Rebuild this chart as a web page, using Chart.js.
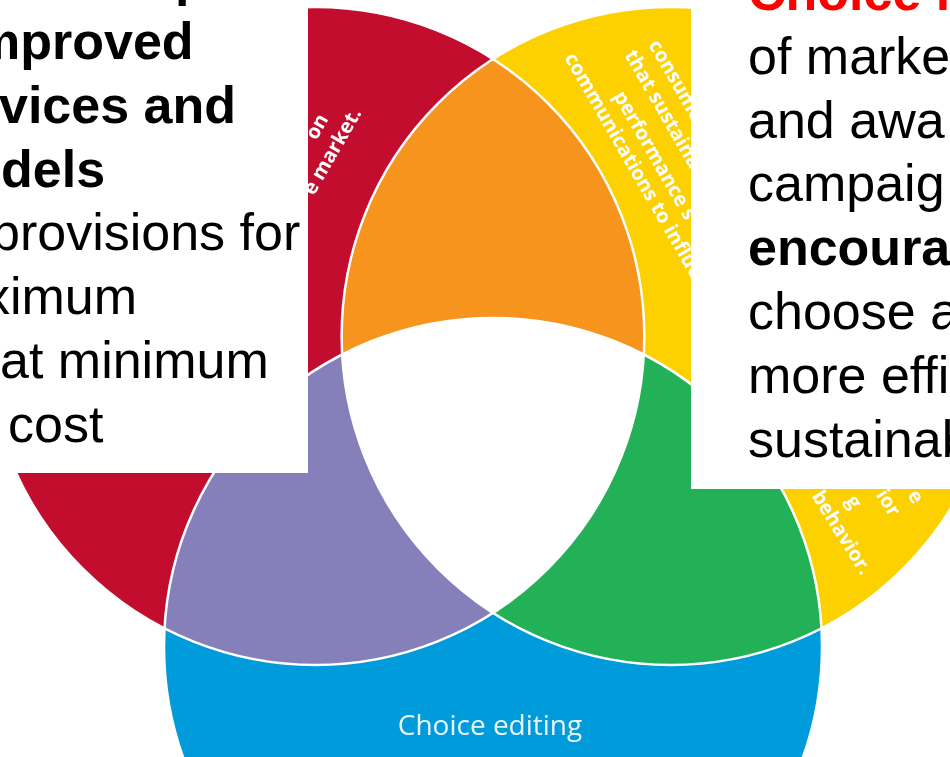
<!DOCTYPE html>
<html>
<head>
<meta charset="utf-8">
<title>Choice editing</title>
<script src="https://cdn.jsdelivr.net/npm/chart.js@4.4.1/dist/chart.umd.min.js"></script>
<style>
  html, body { margin: 0; padding: 0; background: #fff; overflow: hidden; }
  #wrap { position: relative; width: 950px; height: 757px; overflow: hidden; }
  #chartBox { position: absolute; left: 0; top: 0; width: 950px; height: 757px; }
  .box { position: absolute; background: #fff; overflow: hidden;
         font-family: Arial, "Liberation Sans", sans-serif; font-size: 52px; line-height: 52px; color: #000; }
  .box span { position: absolute; white-space: nowrap; }
  .bold { font-weight: bold; }
</style>
</head>
<body>
<div id="wrap">
  <div id="chartBox"><canvas id="venn"></canvas></div>
  <div class="box" id="leftBox" style="left:0;top:0;width:308px;height:473px"></div>
  <div class="box" id="rightBox" style="left:691px;top:0;width:259px;height:489px"></div>
</div>
<script>
// three overlapping sets, in diagram units (radius = 100)
const circleNames = ['Left set', 'Right set', 'Choice editing'];
const circleX = [-54, 54, 0];
const circleY = [0, 0, 94.5];
const circleR = [100, 100, 100];
const overlapPairs = [[0, 1], [0, 2], [1, 2]];

const circleColors = ['#C30D2F', '#FDD000', '#009BDB'];
const overlapColors = ['#F7941E', '#8580B9', '#22B157'];
const centerColor = '#FFFFFF';

// text boxes laid over the picture (both are cut by the slide edges)
const leftLines = ['p', 'mproved', 'vices and', 'dels', 'provisions for', 'ximum', 'at minimum', 'cost'];
const leftBold = [true, true, true, true, false, false, false, false];
const leftIndent = [175, -26, -1, 1, -9, -16, 0, 8];
const rightLines = ['Choice i', 'of marke', 'and awa', 'campaig', 'encoura', 'choose a', 'more effi', 'sustainab'];
const rightBold = [true, false, false, false, true, false, false, false];
const rightColor = ['#FF0000', '#000', '#000', '#000', '#000', '#000', '#000', '#000'];

// small white captions written along the rings
const ringNotes = [
  { text: 'on', x: 324, y: 116, angle: -60, align: 'right' },
  { text: 'e market.', x: 357, y: 110, angle: -60, align: 'right' },
  { text: 'consume', x: 653, y: 42, angle: 60, align: 'left' },
  { text: 'that sustainab', x: 629, y: 52, angle: 60, align: 'left' },
  { text: 'performance s', x: 618, y: 93, angle: 60, align: 'left' },
  { text: 'communications to influe', x: 569, y: 55, angle: 60, align: 'left' },
  { text: 'e', x: 918, y: 502, angle: 58, align: 'right' },
  { text: 'ior', x: 895, y: 515, angle: 58, align: 'right' },
  { text: 'g', x: 856, y: 507, angle: 58, align: 'right' },
  { text: 'behavior.', x: 866, y: 573, angle: 58, align: 'right' }
];

function fillBox(id, lines, bold, indent, colors, firstBaseline) {
    const box = document.getElementById(id);
    lines.forEach((line, i) => {
        const s = document.createElement('span');
        s.textContent = line;
        if (bold[i]) s.className = 'bold';
        s.style.left = indent[i] + 'px';
        s.style.top = (firstBaseline + 63.8 * i - 44) + 'px';
        if (colors) s.style.color = colors[i];
        box.appendChild(s);
    });
}
fillBox('leftBox', leftLines, leftBold, leftIndent, null, -4.8);
fillBox('rightBox', rightLines, rightBold, rightLines.map(() => 57), rightColor, 10);

const vennPlugin = {
    id: 'venn',
    beforeDatasetsDraw(chart) {
        const ctx = chart.ctx;
        const xs = chart.scales.x, ys = chart.scales.y;
        const circles = circleX.map((cx, i) => {
            const px = xs.getPixelForValue(cx);
            const py = ys.getPixelForValue(circleY[i]);
            const pr = Math.abs(xs.getPixelForValue(cx + circleR[i]) - px);
            return { px, py, pr };
        });
        chart.$circles = circles;
        const path = c => { ctx.beginPath(); ctx.arc(c.px, c.py, c.pr, 0, Math.PI * 2); };

        ctx.save();
        circles.forEach((c, i) => { path(c); ctx.fillStyle = circleColors[i]; ctx.fill(); });
        overlapPairs.forEach((pair, k) => {
            ctx.save();
            pair.forEach(i => { path(circles[i]); ctx.clip(); });
            ctx.fillStyle = overlapColors[k];
            ctx.fillRect(0, 0, chart.width, chart.height);
            ctx.restore();
        });
        ctx.save();
        circles.forEach(c => { path(c); ctx.clip(); });
        ctx.fillStyle = centerColor;
        ctx.fillRect(0, 0, chart.width, chart.height);
        ctx.restore();

        // white seams between the regions
        ctx.strokeStyle = '#FFFFFF';
        ctx.lineWidth = 2.5;
        circles.forEach(c => { path(c); ctx.stroke(); });
        ctx.restore();
    },
    afterDatasetsDraw(chart) {
        const ctx = chart.ctx;
        ctx.save();
        ctx.fillStyle = '#FFFFFF';
        ctx.textBaseline = 'middle';
        ctx.font = '700 20px "Open Sans", sans-serif';
        ringNotes.forEach(n => {
            ctx.save();
            ctx.translate(n.x, n.y);
            ctx.rotate(n.angle * Math.PI / 180);
            ctx.textAlign = n.align;
            ctx.fillText(n.text, 0, 0);
            ctx.restore();
        });

        // name of the bottom set
        const blue = chart.$circles[2];
        ctx.fillStyle = '#E8F5FC';
        ctx.font = '28px "Open Sans", sans-serif';
        ctx.textAlign = 'center';
        ctx.textBaseline = 'alphabetic';
        ctx.fillText(circleNames[2], blue.px - 3, blue.py + 88);
        ctx.restore();
    }
};

new Chart(document.getElementById('venn'), {
    type: 'scatter',
    data: {
        datasets: [{
            label: 'sets',
            data: circleX.map((x, i) => ({ x: x, y: circleY[i] })),
            pointRadius: 0
        }]
    },
    options: {
        responsive: true,
        maintainAspectRatio: false,
        animation: false,
        layout: { padding: 0 },
        plugins: { legend: { display: false }, tooltip: { enabled: false } },
        scales: {
            x: { type: 'linear', display: false, min: -149.85, max: 138.91 },
            y: { type: 'linear', display: false, min: -102.13, max: 127.96, reverse: true }
        }
    },
    plugins: [vennPlugin]
});
</script>
</body>
</html>
